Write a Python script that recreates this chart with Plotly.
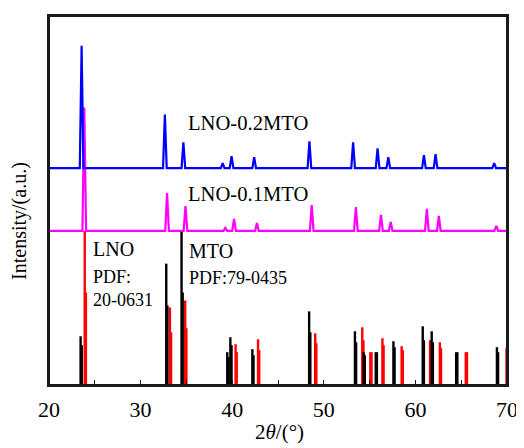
import plotly.graph_objects as go

# ---- data ----
# XRD pattern peaks: 2theta and apex intensity (a.u.), plus baseline level
blue_base = 218
blue_pos = [23.56, 32.65, 34.67, 38.96, 39.93, 42.4, 48.43, 53.2, 55.87, 57.04, 60.93, 62.2, 68.6]
blue_top = [341, 272, 244, 223, 230, 229, 245, 244, 238, 229, 231, 232, 223]

mag_base = 155
mag_pos = [23.85, 32.89, 34.9, 39.25, 40.2, 42.7, 48.68, 53.5, 56.24, 57.3, 61.25, 62.56, 68.83]
mag_top = [279, 193, 180, 158, 167, 163, 181, 179, 171, 164, 177, 170, 160]

# reference sticks (PDF cards): position, main height, secondary (shoulder) height
mto_pos = [23.45, 32.8, 34.47, 39.46, 39.8, 42.2, 48.4, 53.4, 54.35, 55.67, 57.6, 60.8, 61.78, 64.45, 68.9]
mto_h = [49, 122, 155, 33, 48, 36, 74, 54, 33, 33, 44, 59, 54, 33, 38]
mto_h2 = [40, 80, 93, 28, 40, 30, 53, 43, 30, 33, 38, 45, 43, 33, 33]

lno_pos = [23.9, 33.2, 34.87, 40.37, 42.82, 49.06, 54.2, 55.08, 56.4, 58.5, 61.6, 62.67, 65.5, 69.95]
lno_h = [155, 78, 85, 41, 46, 52, 58, 33, 47, 39, 45, 43, 33, 37]
lno_h2 = [93, 53, 57, 33, 35, 42, 45, 33, 40, 35, 40, 37, 33, 37]

x_ticks = [20, 30, 40, 50, 60, 70]

FONT = "Liberation Serif"


def profile(pos, top, base, hw=0.2):
    xs, ys = [20.0], [base]
    for p, t in zip(pos, top):
        xs += [p - hw, p, p + hw]
        ys += [base, t, base]
    xs.append(70.0)
    ys.append(base)
    return xs, ys


def sticks(pos, h, shift=0.0):
    xs, ys = [], []
    for p, v in zip(pos, h):
        xs += [p + shift, p + shift, None]
        ys += [0, v, None]
    return xs, ys


fig = go.Figure()

for pos, h, h2, col in [(lno_pos, lno_h, lno_h2, "#ff0000"), (mto_pos, mto_h, mto_h2, "#000000")]:
    sx, sy = sticks(pos, h)
    fig.add_trace(go.Scatter(x=sx, y=sy, mode="lines", line=dict(color=col, width=2.4),
                             showlegend=False, hoverinfo="skip"))
    sx2, sy2 = sticks(pos, h2, shift=0.16)
    fig.add_trace(go.Scatter(x=sx2, y=sy2, mode="lines", line=dict(color=col, width=1.8),
                             showlegend=False, hoverinfo="skip"))

mx, my = profile(mag_pos, mag_top, mag_base)
fig.add_trace(go.Scatter(x=mx, y=my, mode="lines", line=dict(color="#ff00ff", width=2.2),
                         showlegend=False))
bx, by = profile(blue_pos, blue_top, blue_base)
fig.add_trace(go.Scatter(x=bx, y=by, mode="lines", line=dict(color="#0000ff", width=2.2),
                         showlegend=False))

ann = [
    ("LNO-0.2MTO", 34.97, 263, 20.6),
    ("LNO-0.1MTO", 34.97, 192, 20.6),
    ("LNO", 24.55, 137, 20),
    ("PDF:", 24.6, 109, 18),
    ("20-0631", 24.6, 85, 18),
    ("MTO", 35.08, 135, 20),
    ("PDF:79-0435", 35.08, 108, 18),
]
for t, x, y, s in ann:
    fig.add_annotation(x=x, y=y, text=t, showarrow=False, xanchor="left", yanchor="middle",
                       font=dict(family=FONT, size=s, color="#000000"))

fig.add_annotation(xref="paper", yref="paper", x=0.503, y=-0.127, text="2<i>θ</i>/(°)",
                   showarrow=False, xanchor="center", yanchor="middle",
                   font=dict(family=FONT, size=21, color="#000000"))
fig.add_annotation(xref="paper", yref="paper", x=-0.063, y=0.445, text="Intensity/(a.u.)",
                   showarrow=False, textangle=-90, xanchor="center", yanchor="middle",
                   font=dict(family=FONT, size=20, color="#000000"))

# plot frame
fig.add_shape(type="rect", xref="paper", yref="paper", x0=0, y0=0, x1=1, y1=1,
              line=dict(color="#1a1a1a", width=2), fillcolor="rgba(0,0,0,0)", layer="above")

# the page body adds an 8px offset at top/left, so the figure is 8px smaller
fig.update_layout(
    width=516, height=440,
    margin=dict(l=41, r=14, t=6, b=63),
    paper_bgcolor="white", plot_bgcolor="white",
    font=dict(family=FONT, color="#000000"),
    xaxis=dict(range=[20, 70], tickvals=x_ticks, ticks="inside", ticklen=5, tickwidth=1.3,
               tickcolor="#1a1a1a", minor=dict(dtick=5, ticks="inside", ticklen=5, tickwidth=1.3,
                                               tickcolor="#1a1a1a"),
               showline=True, linecolor="#1a1a1a", linewidth=1.6, mirror=True,
               ticklabelstandoff=4,
               showgrid=False, zeroline=False, tickfont=dict(family=FONT, size=22, color="#000000")),
    yaxis=dict(range=[0, 371], showticklabels=False, ticks="", showline=True,
               linecolor="#1a1a1a", linewidth=1.6, mirror=True, showgrid=False, zeroline=False),
)

fig.write_html("out.html")
